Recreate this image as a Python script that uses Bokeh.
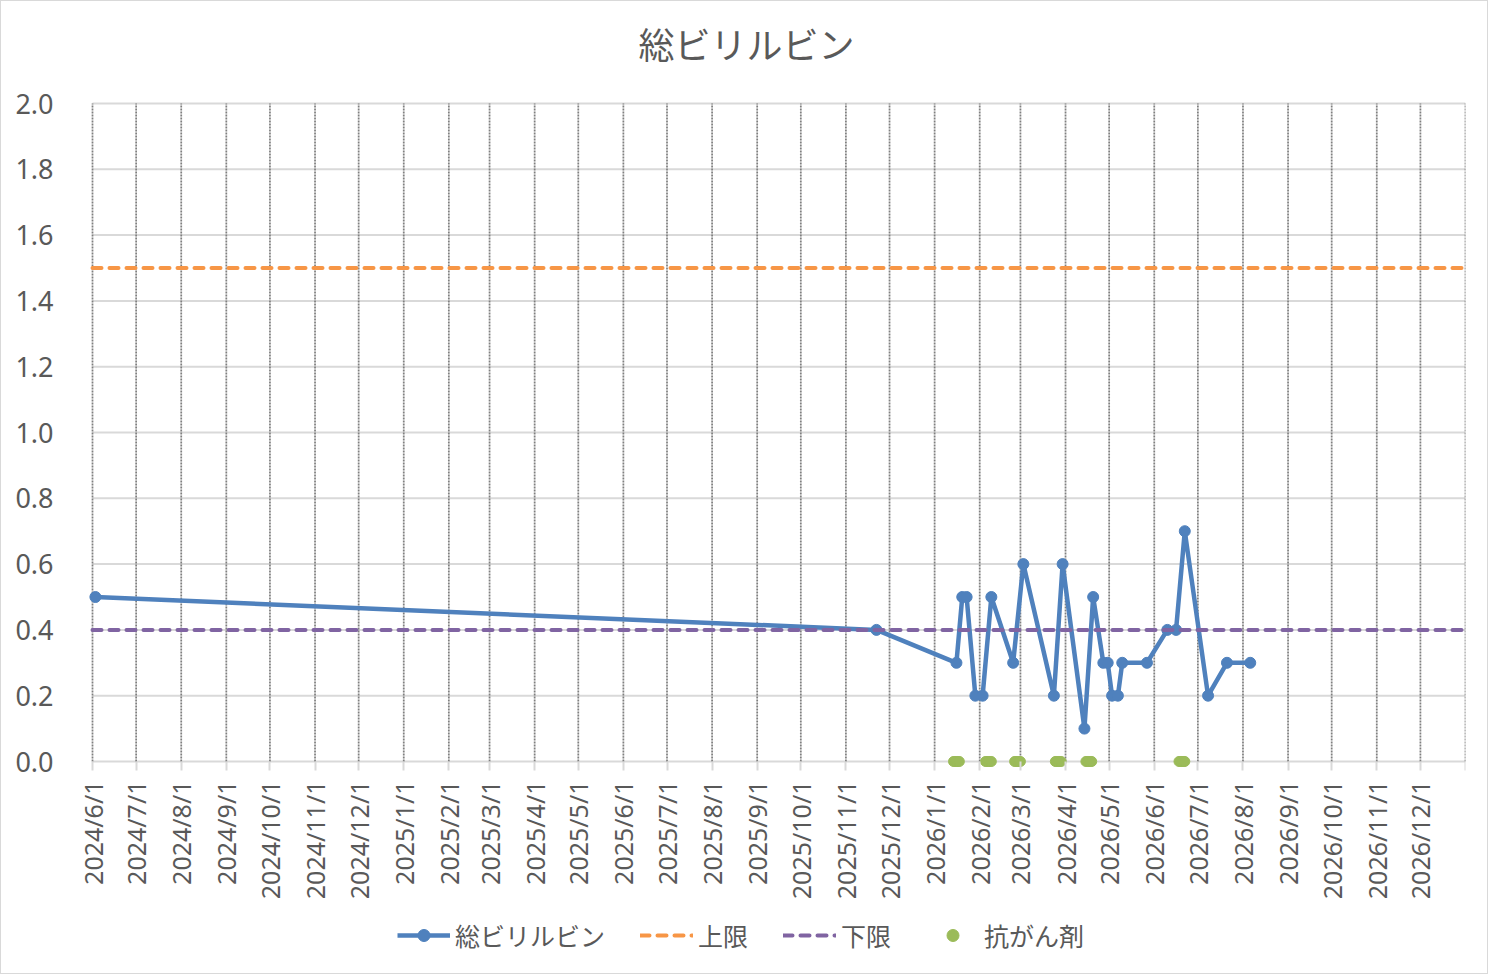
import datetime as dt
from bokeh.plotting import figure
from bokeh.models import FixedTicker, Range1d, Legend
from bokeh.embed import file_html
from bokeh.resources import INLINE
import math

# ---------------- data ----------------
bili_dates = ["2024/6/3", "2025/11/22", "2026/1/16", "2026/1/20", "2026/1/23", "2026/1/29",
              "2026/2/3", "2026/2/9", "2026/2/24", "2026/3/3", "2026/3/24", "2026/3/30",
              "2026/4/14", "2026/4/20", "2026/4/27", "2026/4/30", "2026/5/3", "2026/5/7",
              "2026/5/10", "2026/5/27", "2026/6/10", "2026/6/16", "2026/6/22", "2026/7/8",
              "2026/7/21", "2026/8/6"]
bili_values = [0.5, 0.4, 0.3, 0.5, 0.5, 0.2,
               0.2, 0.5, 0.3, 0.6, 0.2, 0.6,
               0.1, 0.5, 0.3, 0.3, 0.2, 0.2,
               0.3, 0.3, 0.4, 0.4, 0.7, 0.2,
               0.3, 0.3]

upper_dates = ["2024/6/1", "2027/1/1"]
upper_values = [1.5, 1.5]
lower_dates = ["2024/6/1", "2027/1/1"]
lower_values = [0.4, 0.4]

chemo_dates = ["2026/1/14", "2026/1/15", "2026/1/16", "2026/1/17", "2026/1/18",
               "2026/2/5", "2026/2/6", "2026/2/7", "2026/2/8", "2026/2/9",
               "2026/2/25", "2026/2/26", "2026/2/27", "2026/2/28", "2026/3/1",
               "2026/3/25", "2026/3/26", "2026/3/27", "2026/3/28", "2026/3/29",
               "2026/4/15", "2026/4/16", "2026/4/17", "2026/4/18", "2026/4/19",
               "2026/6/18", "2026/6/19", "2026/6/20", "2026/6/21", "2026/6/22"]
chemo_values = [0, 0, 0, 0, 0,
                0, 0, 0, 0, 0,
                0, 0, 0, 0, 0,
                0, 0, 0, 0, 0,
                0, 0, 0, 0, 0,
                0, 0, 0, 0, 0]

x_tick_labels = ["2024/6/1", "2024/7/1", "2024/8/1", "2024/9/1", "2024/10/1", "2024/11/1",
                 "2024/12/1", "2025/1/1", "2025/2/1", "2025/3/1", "2025/4/1", "2025/5/1",
                 "2025/6/1", "2025/7/1", "2025/8/1", "2025/9/1", "2025/10/1", "2025/11/1",
                 "2025/12/1", "2026/1/1", "2026/2/1", "2026/3/1", "2026/4/1", "2026/5/1",
                 "2026/6/1", "2026/7/1", "2026/8/1", "2026/9/1", "2026/10/1", "2026/11/1",
                 "2026/12/1"]
x_axis_end = "2027/1/1"
y_ticks = [0.0, 0.2, 0.4, 0.6, 0.8, 1.0, 1.2, 1.4, 1.6, 1.8, 2.0]

TITLE = "総ビリルビン"
NAMES = ["総ビリルビン", "上限", "下限", "抗がん剤"]
COLORS = ["#4F81BD", "#F79646", "#8064A2", "#9BBB59"]

# ---------------- helpers ----------------
EPOCH = dt.datetime(1970, 1, 1)


def to_dt(s):
    return dt.datetime.strptime(s, "%Y/%m/%d")


def to_ms(s):
    return int((to_dt(s) - EPOCH).total_seconds() * 1000)


TEXT = "#595959"
CJK = "Noto Sans CJK JP"
LAT = "Noto Sans"

# Plot area: the axis span 2024/6/1..2027/1/1 takes 1373 px, 0..2 takes 658 px.
# The drawing frame is a bit larger (left pad for the first label, room below
# for the labels and legend, room above for the title).
X0, X1 = to_dt(x_tick_labels[0]), to_dt(x_axis_end)
AXIS_W = 1373
LEFT_PAD = 14
PX_PER_DAY = AXIS_W / (X1 - X0).days
X_START = X0 - dt.timedelta(days=LEFT_PAD / PX_PER_DAY)

PX_PER_UNIT = 329.0
Y_TOP = 2.0 + 30 / PX_PER_UNIT
Y_BOTTOM = -204 / PX_PER_UNIT

p = figure(width=1486, height=972, x_axis_type="datetime",
           x_range=Range1d(X_START, X1),
           y_range=Range1d(Y_BOTTOM, Y_TOP),
           output_backend="svg", toolbar_location=None,
           min_border_left=91 - LEFT_PAD, min_border_right=22, min_border_top=72,
           min_border_bottom=8)
p.frame_width = AXIS_W + LEFT_PAD
p.frame_height = 892
p.background_fill_color = "white"
p.border_fill_color = "white"
p.outline_line_color = None
p.styles = {"border": "1px solid #D9D9D9"}

# title
p.title.text = TITLE
p.title.align = "left"
p.title.offset = 546 + LEFT_PAD
p.title.text_font = CJK
p.title.text_font_size = "36px"
p.title.text_font_style = "normal"
p.title.text_color = TEXT
p.title.text_line_height = 1.0
p.title.standoff = 10

# x axis (sits on the value 0)
tick_ms = [to_ms(s) for s in x_tick_labels] + [to_ms(x_axis_end)]
overrides = {to_ms(s): s for s in x_tick_labels}
overrides[to_ms(x_axis_end)] = ""
xa = p.xaxis[0]
xa.fixed_location = 0
xa.ticker = FixedTicker(ticks=tick_ms)
xa.major_label_overrides = overrides
xa.major_label_orientation = math.pi / 2
xa.major_label_text_font = LAT
xa.major_label_text_font_size = "25px"
xa.major_label_text_color = TEXT
xa.major_label_standoff = 10
xa.axis_line_color = None
xa.major_tick_line_color = "#D9D9D9"
xa.major_tick_line_width = 2
xa.major_tick_out = 9
xa.major_tick_in = 0
xa.minor_tick_line_color = None

# y axis
ya = p.yaxis[0]
ya.ticker = FixedTicker(ticks=y_ticks)
ya.major_label_overrides = {v: f"{v:.1f}" for v in y_ticks}
ya.major_label_text_font = LAT
ya.major_label_text_font_size = "27px"
ya.major_label_text_color = TEXT
ya.major_label_standoff = 33 - LEFT_PAD
ya.axis_line_color = None
ya.major_tick_line_color = None
ya.minor_tick_line_color = None

# grids: solid horizontal lines at the value ticks, dotted monthly lines, both
# limited to the axis span
p.xgrid.visible = False
p.ygrid.visible = False
n_y = len(y_ticks)
p.segment(x0=[X0] * n_y, y0=y_ticks, x1=[X1] * n_y, y1=y_ticks,
          line_color="#D9D9D9", line_width=2)
grid_x = [to_dt(s) for s in x_tick_labels] + [X1]
n_x = len(grid_x)
p.segment(x0=grid_x, y0=[y_ticks[0]] * n_x, x1=grid_x, y1=[y_ticks[-1]] * n_x,
          line_color="#7F7F7F", line_width=1.75, line_dash="2 1")

# series
bx = [to_dt(s) for s in bili_dates]
r1 = p.line(bx, bili_values, line_color=COLORS[0], line_width=4.5, line_join="round")
r1m = p.scatter(bx, bili_values, size=11, fill_color=COLORS[0], line_color=COLORS[0])
r2 = p.line([to_dt(s) for s in upper_dates], upper_values, line_color=COLORS[1],
            line_width=4, line_dash="9 8", line_cap="round")
r3 = p.line([to_dt(s) for s in lower_dates], lower_values, line_color=COLORS[2],
            line_width=4, line_dash="9 8", line_cap="round")
r4 = p.scatter([to_dt(s) for s in chemo_dates], chemo_values, size=10,
               fill_color=COLORS[3], line_color=COLORS[3])

legend = Legend(items=[(NAMES[0], [r1, r1m]), (NAMES[1], [r2]), (NAMES[2], [r3]), (NAMES[3], [r4])],
                orientation="horizontal", location=(305 + LEFT_PAD, 12))
legend.label_text_font = CJK
legend.label_text_font_size = "25px"
legend.label_text_color = TEXT
legend.glyph_width = 53
legend.glyph_height = 30
legend.label_standoff = 5
legend.spacing = 35
legend.padding = 0
legend.margin = 0
legend.border_line_color = None
legend.background_fill_alpha = 0
p.add_layout(legend, "center")

open("out.html", "w").write(file_html(p, INLINE))
